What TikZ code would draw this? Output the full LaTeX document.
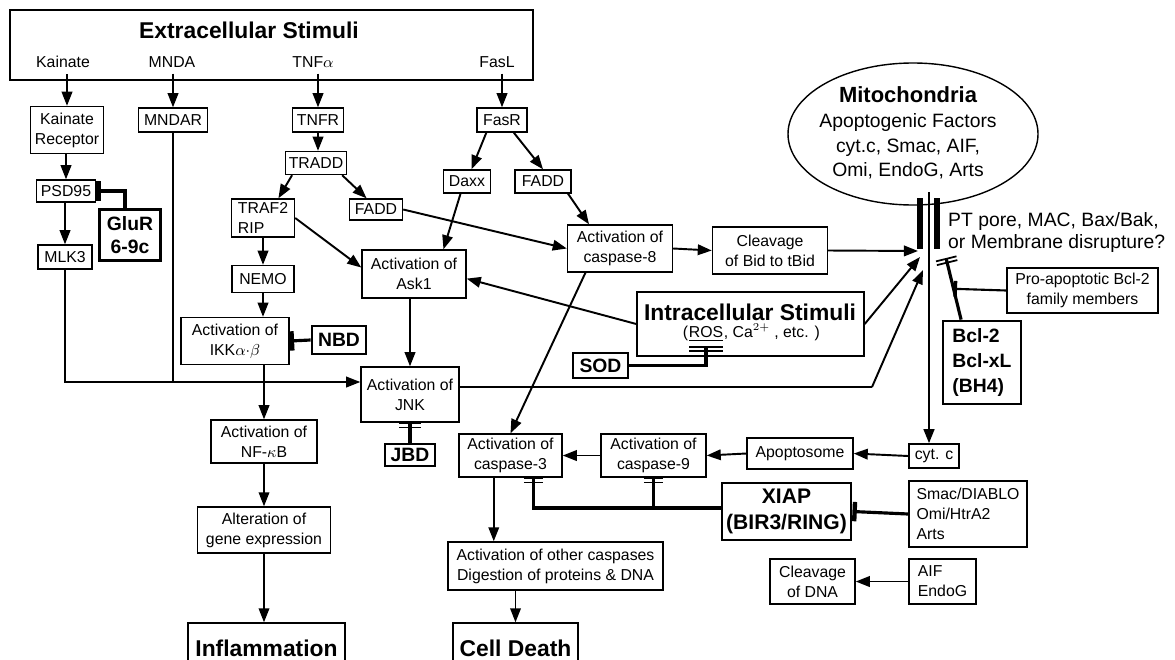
\documentclass[tikz,border=0pt]{standalone}
\usepackage{fontspec}
\setmainfont{Liberation Sans}
\usetikzlibrary{positioning,arrows.meta,calc,shapes.geometric}

\begin{document}
\begin{tikzpicture}[
  x=0.02cm, y=-0.02cm,
  font=\fontsize{9}{11.3}\selectfont,
  box/.style={draw, line width=0.8pt, align=center, inner sep=1pt},
  sz/.style 2 args={minimum width=#1*0.02cm, minimum height=#2*0.02cm},
  blocker/.style={draw, line width=1.6pt, align=center, inner sep=2pt, font=\fontsize{11}{13}\selectfont\bfseries},
  outcome/.style={box, font=\fontsize{13}{15}\selectfont\bfseries},
  headline/.style={font=\fontsize{13}{15}\selectfont\bfseries},
  act/.style={-{Triangle[length=8pt,width=6pt]}, line width=1.1pt},
  link/.style={line width=1.1pt},
  inhib/.style={-{Bar[width=11pt,line width=2.5pt]}, line width=1.8pt},
  inhibtwo/.style={-{Bar[width=#1,line width=1pt,sep=1.2pt]Bar[width=#1,line width=1pt]}, line width=1.8pt},
  inhibtwo/.default=12pt
]
\path[use as bounding box, clip] (0,0) rectangle (1175,659);

% extracellular stimuli
\node[box, sz={523}{70}] (extra) at (271.5,45) {};
\node[headline] (extratitle) at (249,30) {Extracellular Stimuli};
\node (kainate) at (63,62) {Kainate};
\node (mnda) at (172,62) {MNDA};
\node (tnfa) at (313,62) {TNF$\alpha$};
\node (fasl) at (497,62) {FasL};

% left branch
\node[box, sz={73}{47}] (kr) at (67,130) {Kainate\\Receptor};
\node[box, sz={69}{24}] (mndar) at (173,120) {MNDAR};
\node[box, sz={51}{24}] (tnfr) at (318,120) {TNFR};
\node[box, sz={61}{23}] (tradd) at (316,163) {TRADD};
\node[box, sz={59}{22}] (psd95) at (66,191) {PSD95};
\node[blocker, sz={61}{51}] (glur) at (130,235) {GluR\\6-9c};
\node[box, sz={54}{24}] (mlk3) at (65,257) {MLK3};
\node[box, sz={63}{38}, align=left] (traf2) at (263,218) {TRAF2\\RIP};
\node[box, sz={53}{21}] (fadd1) at (376,209.5) {FADD};
\node[box, sz={62}{27}] (nemo) at (263,279) {NEMO};
\node[box, sz={108}{47}] (ikk) at (235,341) {Activation of\\IKK$\alpha{\cdot}\beta$};
\node[blocker, sz={54}{28}] (nbd) at (339,340) {NBD};
\node[box, sz={104}{48}] (ask1) at (414,274) {Activation of\\Ask1};
\node[box, sz={98}{55}] (jnk) at (410,394.5) {Activation of\\JNK};
\node[blocker, sz={50}{22}] (jbd) at (410,455) {JBD};
\node[box, sz={106}{43}] (nfkb) at (264,441.5) {Activation of\\NF-$\kappa$B};
\node[box, sz={133}{46}] (gene) at (264,530) {Alteration of\\gene expression};
\node[outcome, sz={157}{50}] (inflam) at (266.5,648) {Inflammation};

% Fas branch
\node[box, sz={50}{24}] (fasr) at (502,120) {FasR};
\node[box, sz={47}{23}] (daxx) at (467,181.5) {Daxx};
\node[box, sz={56}{23}] (fadd2) at (543,181.5) {FADD};
\node[box, sz={105}{47}] (casp8) at (620,248.5) {Activation of\\caspase-8};
\node[box, sz={115}{47}] (bid) at (770,250.5) {Cleavage\\of Bid to tBid};

% intracellular stimuli
\node[box, sz={227}{64}] (intra) at (750.5,324) {};
\node[headline] (intratitle) at (750,312) {Intracellular Stimuli};
\node[inner sep=0pt] (ros) at (706,334) {\underline{ROS}};
\node[inner sep=0pt, anchor=base east] (rosleft) at (ros.base west) {(};
\node[inner sep=0pt, anchor=base west] (rosright) at (ros.base east) {, Ca$^{2+}$ , etc. )};
\node[blocker, sz={55}{25}] (sod) at (600.5,365.5) {SOD};

% mitochondria
\node[ellipse, draw, line width=0.8pt, sz={250}{142}] (mito) at (913,134) {};
\node[align=center, font=\fontsize{11}{14}\selectfont] (mitotext) at (908,133)
  {{\fontsize{12.5}{14}\selectfont\bfseries Mitochondria}\\Apoptogenic Factors\\cyt.c, Smac, AIF,\\Omi, EndoG, Arts};
\coordinate (mtop) at (929,192);
\draw[line width=3pt] (920,198) -- (920,249);
\draw[line width=3pt] (937,198) -- (937,249);
\coordinate (pore1) at (918,251);
\coordinate (pore2) at (920,257);
\coordinate (pore3) at (923,270);
\coordinate (bcltip) at (946,258);
\coordinate (jnkbend) at (872,387);
\node[anchor=west, align=left, font=\fontsize{11}{12}\selectfont] (ptpore) at (942,232.5)
  {PT pore, MAC, Bax/Bak,\\or Membrane disrupture?};
\node[box, sz={151}{45}] (probcl) at (1082.5,290.5) {Pro-apoptotic Bcl-2\\family members};
\node[blocker, sz={78}{83}, align=left, font=\fontsize{11}{14}\selectfont\bfseries] (bcl) at (982,362.5) {Bcl-2\\Bcl-xL\\(BH4)};

% caspase cascade
\node[box, sz={50}{24}] (cytc) at (934,456) {cyt. c};
\node[box, sz={106}{31}] (apop) at (800,453.5) {Apoptosome};
\node[box, sz={105}{43}] (casp9) at (653.5,455.5) {Activation of\\caspase-9};
\node[box, sz={103}{43}] (casp3) at (510.5,455.5) {Activation of\\caspase-3};
\node[blocker, sz={129}{57}, font=\fontsize{12}{15}\selectfont\bfseries] (xiap) at (786.5,511.5) {XIAP\\(BIR3/RING)};
\node[box, sz={118}{66}, align=left] (smac) at (968,514) {Smac/DIABLO\\Omi/HtrA2\\Arts};
\node[box, sz={215}{48}] (other) at (555.5,566) {Activation of other caspases\\Digestion of proteins \& DNA};
\node[outcome, sz={125}{50}] (celld) at (515.5,648) {Cell Death};
\node[box, sz={85}{45}] (dna) at (812.5,581.5) {Cleavage\\of DNA};
\node[box, sz={67}{45}, align=left] (aif) at (942.5,581.5) {AIF\\EndoG};

% receptors
\draw[act] (kr.north |- kainate.south) -- (kr.north);
\draw[act] (mndar.north |- mnda.south) -- (mndar.north);
\draw[act] (tnfr.north |- tnfa.south) -- (tnfr.north);
\draw[act] (fasr.north |- fasl.south) -- (fasr.north);
\draw[act] (psd95.north |- kr.south) -- (psd95.north);
\draw[act] (mlk3.north |- psd95.south) -- (mlk3.north);
\draw[inhib] ([xshift=-0.1cm]glur.north) |- (psd95.east);

% TNF pathway
\draw[act] (tnfr.south) -- (tnfr.south |- tradd.north);
\draw[act] (tradd.207) -- (traf2.52);
\draw[act] (tradd.335) -- (fadd1.130);
\draw[act] (traf2.south) -- (traf2.south |- nemo.north);
\draw[act] (nemo.south) -- (nemo.south |- ikk.north);
\draw[act] (nfkb.north |- ikk.south) -- (nfkb.north);
\draw[act] (nfkb.south) -- (nfkb.south |- gene.north);
\draw[act] (gene.south) -- (gene.south |- inflam.north);
\draw[inhib] (nbd.west) -- (ikk.east);
\draw[act] (traf2.east) -- (ask1.173);
\draw[act] (fadd1.east) -- (casp8.west);

% JNK inputs
\coordinate (jnkin) at ([yshift=0.25cm]jnk.west);
\draw[act] (mlk3.south) |- (jnkin);
\draw[link] (mndar.south) -- (mndar.south |- jnkin);
\draw[act] (jnk.north |- ask1.south) -- (jnk.north);
\draw[inhibtwo] (jbd.north) -- (jnk.south);

% Fas pathway
\draw[act] (fasr.219) -- (daxx.70);
\draw[act] (fasr.313) -- (fadd2.north);
\draw[act] (daxx.242) -- (ask1.40);
\draw[act] (fadd2.334) -- (casp8.142);
\draw[act] (casp8.east) -- (bid.west);
\draw[act] (casp8.215) -- (casp3.north);

% towards the membrane
\draw[act] (bid.east) -- (pore1);
\draw[act] (intra.east) -- (pore2);
\draw[act] (intra.west) -- (ask1.355);
\draw[link] ([yshift=0.15cm]jnk.east) -- (jnkbend);
\draw[act] (jnkbend) -- (pore3);
\draw[inhibtwo=19pt] (sod.east) -| ([yshift=-2.5pt]ros.south);
\draw[inhibtwo] (bcl.116) -- (bcltip);
\coordinate (bclmid) at ($(bcl.116)!0.5!(bcltip)$);
\draw[-{Bar[width=9pt,line width=2pt]}, line width=1.2pt] (probcl.west) -- (bclmid);

% cytochrome c and caspases
\draw[act, line width=1.4pt] (mtop) -- (mtop |- cytc.north);
\draw[act] (cytc.west) -- (apop.east);
\draw[act] (apop.west) -- (casp9.east);
\draw[act] (casp9.west) -- (casp3.east);
\coordinate (xiapout) at ([yshift=0.07cm]xiap.west);
\draw[inhibtwo=11pt] (xiapout) -| (casp3.316);
\draw[inhibtwo=11pt] (casp9.south |- xiapout) -- (casp9.south);
\draw[inhib] (smac.west) -- (xiap.east);
\draw[act] (aif.west) -- (dna.east);
\draw[act] (casp3.233) -- (casp3.233 |- other.north);
\draw[act] (celld.north |- other.south) -- (celld.north);
\end{tikzpicture}
\end{document}
